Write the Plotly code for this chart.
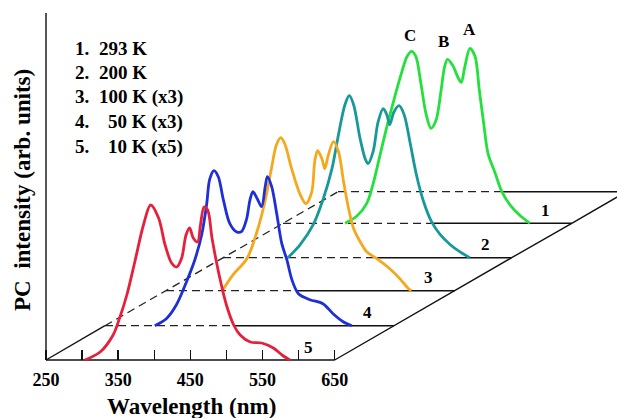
import numpy as np
import plotly.graph_objects as go

# ---- data (local wavelength axis of each trace, nm; PC intensity, arb. units)
temps = ["10 K", "50 K", "100 K", "200 K", "293 K"]          # front -> back
curve_numbers = ["5", "4", "3", "2", "1"]
legend_numbers = ["1.", "2.", "3.", "4.", "5."]
legend_texts = ["293 K", "200 K", "100 K (x3)", "50 K (x3)", "10 K (x5)"]

wl_10K = [304, 325, 343, 352, 362, 373, 385, 395, 406, 415, 424, 431, 438, 444, 449, 454, 460, 464, 469, 474,
          480, 487, 493, 500, 510, 519, 533, 549, 565, 577, 588]
pc_10K = [0, 0.08, 0.25, 0.42, 0.65, 0.98, 1.35, 1.55, 1.42, 1.15, 0.97, 0.93, 1.02, 1.25, 1.32, 1.22, 1.18, 1.35,
          1.53, 1.50, 1.22, 0.95, 0.75, 0.55, 0.35, 0.25, 0.18, 0.17, 0.12, 0.05, 0]

wl_50K = [319, 335, 349, 363, 375, 384, 391, 395, 401, 407, 414, 423, 432, 439, 446, 451, 455, 461, 467, 472,
          475, 481, 488, 495, 502, 509, 518, 534, 552, 566, 580, 592]
pc_50K = [0, 0.07, 0.21, 0.44, 0.67, 0.91, 1.22, 1.46, 1.55, 1.49, 1.26, 1.02, 0.94, 0.94, 1.06, 1.26, 1.34, 1.27,
          1.19, 1.39, 1.49, 1.39, 1.12, 0.82, 0.66, 0.46, 0.32, 0.26, 0.22, 0.12, 0.04, 0]

wl_100K = [328, 343, 362, 376, 387, 396, 403, 409, 415, 424, 436, 444, 452, 456, 460, 466, 470, 475, 482, 489,
           496, 503, 510, 519, 528, 542, 560, 574, 586, 590]
pc_100K = [0, 0.16, 0.32, 0.59, 0.89, 1.22, 1.46, 1.53, 1.46, 1.22, 0.96, 0.87, 0.99, 1.29, 1.40, 1.32, 1.22, 1.36,
           1.49, 1.39, 1.09, 0.82, 0.62, 0.49, 0.39, 0.32, 0.22, 0.12, 0.02, 0]

wl_200K = [340, 357, 375, 389, 401, 410, 419, 425, 431, 440, 447, 451, 458, 465, 472, 477, 481, 487, 494, 501,
           509, 518, 528, 539, 551, 565, 578, 592]
pc_200K = [0, 0.13, 0.33, 0.59, 0.89, 1.23, 1.53, 1.62, 1.53, 1.19, 0.99, 0.94, 1.06, 1.36, 1.49, 1.43, 1.33, 1.46,
           1.52, 1.43, 1.16, 0.83, 0.56, 0.36, 0.23, 0.13, 0.06, 0]

wl_293K = [336, 352, 366, 375, 384, 394, 405, 414, 422, 428, 434, 441, 448, 455, 462, 469, 474, 478, 485, 493,
           497, 502, 509, 516, 522, 528, 534, 544, 553, 565, 578, 592]
pc_293K = [0, 0.07, 0.20, 0.40, 0.67, 0.97, 1.27, 1.50, 1.67, 1.72, 1.67, 1.40, 1.10, 0.95, 1.03, 1.33, 1.57, 1.64,
           1.58, 1.45, 1.41, 1.57, 1.75, 1.67, 1.33, 1.00, 0.70, 0.50, 0.32, 0.18, 0.08, 0]

peak_names = ["C", "B", "A"]
peak_wl = [426, 473, 508]          # on the 293 K trace
peak_lab_y = [1.88, 1.82, 1.94]

tick_wl = [250, 300, 350, 400, 450, 500, 550, 600, 650]
tick_text = ["250", "", "350", "", "450", "", "550", "", "650"]

# ---- pseudo-3D depth offsets (wavelength shift, intensity shift) for each plane
depth_dx = [0, 81.7, 166.3, 245.2, 328.4, 404.6]
depth_dy = [0, 0.343, 0.693, 1.023, 1.367, 1.683]
WL0, WL1 = 250, 650

wls = [wl_10K, wl_50K, wl_100K, wl_200K, wl_293K]
pcs = [pc_10K, pc_50K, pc_100K, pc_200K, pc_293K]
colors = ["#e5203c", "#1e2fd8", "#f4a81e", "#189898", "#25e03c"]

fig = go.Figure()
BLACK = "#111111"
DASH = "8px,5px"


def line(x, y, dash=None, width=1.4, color=BLACK):
    fig.add_trace(go.Scatter(x=x, y=y, mode="lines", hoverinfo="skip", showlegend=False,
                             line=dict(color=color, width=width, dash=dash)))


def right_crossing(k_front, level):
    x = np.array(wls[k_front]) + depth_dx[k_front]
    y = np.array(pcs[k_front]) + depth_dy[k_front]
    j0 = int(np.argmax(y))
    for j in range(j0, len(y) - 1):
        if y[j] >= level > y[j + 1]:
            return x[j] + (level - y[j]) * (x[j + 1] - x[j]) / (y[j + 1] - y[j])
    return x[-1]


# base axis line of the front plane
line([WL0, WL1], [0, 0])
# vertical intensity axis
line([WL0, WL0], [0, 3.6])
# baselines of the planes behind
for k in range(1, 6):
    xs, y = WL0 + depth_dx[k], depth_dy[k]
    split = right_crossing(k - 1, y)
    line([xs, split], [y, y], dash=DASH, width=1.3, color="#222222")
    line([split, WL1 + depth_dx[k]], [y, y])
# left diagonal: solid to first plane, dashed beyond
line([WL0 + depth_dx[0], WL0 + depth_dx[1]], [depth_dy[0], depth_dy[1]])
line([WL0 + d for d in depth_dx[1:]], depth_dy[1:], dash=DASH, width=1.3, color="#222222")
# right diagonal
line([WL1 + d for d in depth_dx] + [WL1 + depth_dx[5] + 50], depth_dy + [depth_dy[5] + 50 * 0.343 / 81.7])

# spectra, back to front
for k in range(4, -1, -1):
    fig.add_trace(go.Scatter(x=np.array(wls[k]) + depth_dx[k], y=np.array(pcs[k]) + depth_dy[k],
                             mode="lines", name=temps[k], showlegend=False,
                             line=dict(color=colors[k], width=2.8, shape="spline", smoothing=0.9)))

SERIF = "Liberation Serif, Times New Roman, serif"
ann = []
# curve numbers
for k in range(5):
    ann.append(dict(x=614 + depth_dx[k], y=0.13 + depth_dy[k], xref="x", yref="y", text="<b>%s</b>" % curve_numbers[k],
                    showarrow=False, font=dict(family=SERIF, size=17, color="black")))
# peak labels
for n, w, yy in zip(peak_names, peak_wl, peak_lab_y):
    ann.append(dict(x=w + depth_dx[4], y=yy + depth_dy[4], xref="x", yref="y", text="<b>%s</b>" % n,
                    showarrow=False, font=dict(family=SERIF, size=17, color="black")))

L, T, W, H = 43, 13, 574, 350
px = lambda v: (v - L) / W
py = lambda v: (T + H - v) / H
leg_y = [48.3, 72, 96.7, 121.5, 146.5]
leg_x = [96.7, 96.7, 96.7, 106.2, 106.2]
for i in range(5):
    ann.append(dict(x=px(72.5), y=py(leg_y[i]), xref="paper", yref="paper", text="<b>%s</b>" % legend_numbers[i],
                    xanchor="left", yanchor="middle", showarrow=False, font=dict(family=SERIF, size=19, color="black")))
    ann.append(dict(x=px(leg_x[i]), y=py(leg_y[i]), xref="paper", yref="paper", text="<b>%s</b>" % legend_texts[i],
                    xanchor="left", yanchor="middle", showarrow=False, font=dict(family=SERIF, size=19, color="black")))
ann.append(dict(x=px(22.5), y=py(190.5), xref="paper", yref="paper", text="<b>PC  intensity (arb. units)</b>",
                textangle=-90, showarrow=False, xanchor="center", yanchor="middle",
                font=dict(family=SERIF, size=23, color="black")))
ann.append(dict(x=px(191.5), y=py(406), xref="paper", yref="paper", text="<b>Wavelength (nm)</b>",
                showarrow=False, xanchor="center", yanchor="middle", font=dict(family=SERIF, size=23, color="black")))

K = 400 / 288.7  # nm per pixel on the front plane
fig.update_layout(
    width=617, height=418, margin=dict(l=L, r=617 - L - W, t=T, b=418 - T - H),
    paper_bgcolor="white", plot_bgcolor="white", showlegend=False,
    annotations=ann,
    xaxis=dict(range=[250 - 3 * K, 250 - 3 * K + W * K], showgrid=False, zeroline=False, showline=False,
               anchor="free", position=0.03 / 3.50, tickmode="array", tickvals=tick_wl,
               ticktext=["<b>%s</b>" % t if t else "" for t in tick_text],
               ticks="inside", ticklen=10, tickwidth=1.4, tickcolor=BLACK,
               tickfont=dict(family=SERIF, size=18, color="black", weight="bold"), ticklabelstandoff=7),
    yaxis=dict(range=[-0.03, 3.47], visible=False),
)
fig.write_html("out.html", config={"displayModeBar": False, "staticPlot": True},
               post_script="document.body.style.margin='0px';document.body.style.overflow='hidden';")
